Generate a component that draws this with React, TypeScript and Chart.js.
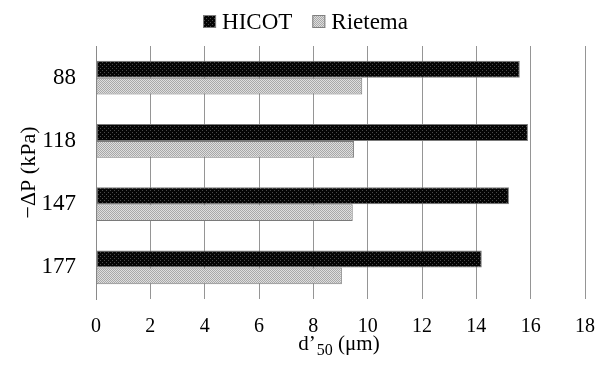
import React, { useEffect, useRef } from "react";
import { Chart, registerables } from "chart.js";

Chart.register(...registerables);

const categories = ["88", "118", "147", "177"];
const hicotValues = [15.6, 15.9, 15.2, 14.2];
const rietemaValues = [9.8, 9.5, 9.45, 9.05];
const seriesNames = ["HICOT", "Rietema"];
const xMin = 0;
const xMax = 18;
const xStep = 2;
const yTitle = "\u2212\u0394P (kPa)";
const xTitleMain = "d\u2019";
const xTitleSub = "50";
const xTitleTail = " (\u03bcm)";

const FONT = "'Liberation Serif', 'Times New Roman', serif";

function makePattern(kind: "dark" | "light"): CanvasPattern | string {
  const c = document.createElement("canvas");
  c.width = 4;
  c.height = 4;
  const g = c.getContext("2d");
  if (!g) return kind === "dark" ? "#111" : "#ccc";
  if (kind === "dark") {
    g.fillStyle = "#050505";
    g.fillRect(0, 0, 4, 4);
    g.fillStyle = "#4a4a4a";
    g.fillRect(0, 0, 1, 1);
    g.fillRect(2, 2, 1, 1);
  } else {
    for (let y = 0; y < 4; y++) {
      for (let x = 0; x < 4; x++) {
        g.fillStyle = (x + y) % 2 === 0 ? "#a8a8a8" : "#dedede";
        g.fillRect(x, y, 1, 1);
      }
    }
  }
  const p = g.createPattern(c, "repeat");
  return p || (kind === "dark" ? "#111" : "#ccc");
}

export default function App() {
  const ref = useRef<HTMLCanvasElement | null>(null);

  useEffect(() => {
    if (!ref.current) return;
    const dark = makePattern("dark");
    const light = makePattern("light");
    const fills = [dark, light];

    const legendPlugin = {
      id: "customLegend",
      afterDraw(chart: any) {
        const ctx = chart.ctx as CanvasRenderingContext2D;
        ctx.save();
        ctx.font = `23px ${FONT}`;
        const box = 13;
        const gap = 6;
        const spacing = 20;
        const widths = seriesNames.map((n) => ctx.measureText(n).width);
        const total = widths.reduce((a, w) => a + box + gap + w, 0) + spacing * (seriesNames.length - 1);
        let x = chart.width / 2 - total / 2;
        const baseline = 29;
        seriesNames.forEach((n, i) => {
          ctx.fillStyle = fills[i] as any;
          ctx.fillRect(x, 15, box, box);
          ctx.strokeStyle = "#7f7f7f";
          ctx.lineWidth = 1;
          ctx.strokeRect(x + 0.5, 15.5, box - 1, box - 1);
          x += box + gap;
          ctx.fillStyle = "#000";
          ctx.textBaseline = "alphabetic";
          ctx.textAlign = "left";
          ctx.fillText(n, x, baseline);
          x += widths[i] + spacing;
        });
        ctx.restore();
      },
    };

    const xTitlePlugin = {
      id: "xTitle",
      afterDraw(chart: any) {
        const ctx = chart.ctx as CanvasRenderingContext2D;
        const area = chart.chartArea;
        ctx.save();
        const main = `21px ${FONT}`;
        const sub = `16px ${FONT}`;
        ctx.font = main;
        const w1 = ctx.measureText(xTitleMain).width;
        const w3 = ctx.measureText(xTitleTail).width;
        ctx.font = sub;
        const w2 = ctx.measureText(xTitleSub).width;
        const total = w1 + w2 + w3;
        let x = (area.left + area.right) / 2 - total / 2 - 2;
        const base = 350;
        ctx.fillStyle = "#000";
        ctx.textBaseline = "alphabetic";
        ctx.textAlign = "left";
        ctx.font = main;
        ctx.fillText(xTitleMain, x, base);
        x += w1 + 1;
        ctx.font = sub;
        ctx.fillText(xTitleSub, x, base + 5);
        x += w2;
        ctx.font = main;
        ctx.fillText(xTitleTail, x, base);
        ctx.restore();
      },
    };

    const chart = new Chart(ref.current, {
      type: "bar",
      data: {
        labels: categories,
        datasets: [
          {
            label: seriesNames[0],
            data: hicotValues,
            backgroundColor: dark as any,
            borderColor: "#7a7a7a",
            borderWidth: 1,
            borderSkipped: false,
            barPercentage: 1,
            categoryPercentage: 0.53,
          },
          {
            label: seriesNames[1],
            data: rietemaValues,
            backgroundColor: light as any,
            borderColor: "#7a7a7a",
            borderWidth: 1,
            borderSkipped: false,
            barPercentage: 1,
            categoryPercentage: 0.53,
          },
        ],
      },
      options: {
        indexAxis: "y",
        responsive: false,
        animation: false,
        layout: { padding: { top: 46, right: 23, bottom: 0, left: 0 } },
        plugins: {
          legend: { display: false },
          tooltip: { enabled: false },
        },
        scales: {
          x: {
            min: xMin,
            max: xMax,
            ticks: {
              stepSize: xStep,
              color: "#000",
              padding: 16,
              font: { family: FONT, size: 20 },
            },
            grid: { color: "#959595", lineWidth: 1, drawTicks: false },
            border: { display: false },
            afterFit(scale: any) {
              scale.height = 73;
            },
          },
          y: {
            ticks: {
              color: "#000",
              padding: 20,
              font: { family: FONT, size: 23 },
            },
            grid: { display: false, drawTicks: false },
            border: { display: true, color: "#8a8a8a", width: 1 },
            title: {
              display: true,
              text: yTitle,
              color: "#000",
              font: { family: FONT, size: 22 },
              padding: { top: 16, bottom: 0 },
            },
            afterFit(scale: any) {
              scale.width = 96;
            },
          },
        },
      },
      plugins: [legendPlugin, xTitlePlugin],
    } as any);

    return () => chart.destroy();
  }, []);

  return (
    <div style={{ position: "fixed", left: 0, top: 0, width: 611, height: 372, background: "#fff" }}>
      <canvas ref={ref} width={611} height={372} style={{ display: "block", width: 611, height: 372 }} />
    </div>
  );
}
